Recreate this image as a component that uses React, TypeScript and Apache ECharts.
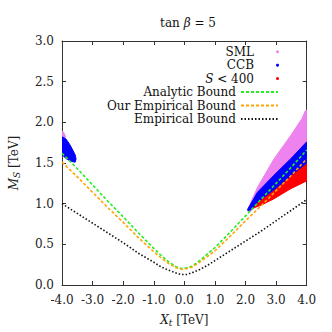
import React, { useEffect, useRef } from "react";
import * as echarts from "echarts";

// ---- data ----
const analyticX = [-4, -3.5, -3, -2.5, -2, -1.5, -1, -0.75, -0.5, -0.25, -0.05, 0.25, 0.5, 0.75, 1, 1.5, 2, 2.5, 3, 3.5, 4];
const analyticY = [1.62, 1.43, 1.23, 1.03, 0.84, 0.64, 0.45, 0.36, 0.28, 0.22, 0.2, 0.23, 0.3, 0.38, 0.46, 0.65, 0.85, 1.05, 1.25, 1.45, 1.66];

const ourEmpX = [-4, -3.5, -3, -2.5, -2, -1.5, -1, -0.75, -0.5, -0.25, -0.05, 0.25, 0.5, 0.75, 1, 1.5, 2, 2.5, 3, 3.5, 4];
const ourEmpY = [1.51, 1.33, 1.14, 0.95, 0.77, 0.58, 0.41, 0.33, 0.26, 0.21, 0.19, 0.22, 0.28, 0.35, 0.42, 0.6, 0.79, 0.97, 1.16, 1.35, 1.55];

const empX = [-4, -3.5, -3, -2.5, -2, -1.5, -1, -0.75, -0.5, -0.25, -0.1, 0.1, 0.25, 0.5, 0.75, 1, 1.5, 2, 2.5, 3, 3.5, 4];
const empY = [1.0, 0.88, 0.76, 0.64, 0.52, 0.39, 0.28, 0.22, 0.18, 0.145, 0.128, 0.13, 0.15, 0.19, 0.24, 0.3, 0.42, 0.54, 0.66, 0.79, 0.92, 1.05];

// scatter regions (outline of the point clouds)
const smlRight: [number, number][] = [
  [2.07, 0.93], [2.39, 1.2], [2.93, 1.55], [3.5, 1.85], [3.85, 2.05], [3.95, 2.14], [4.0, 2.15], [4.0, 1.7], [2.5, 1.05], [2.15, 0.9],
];
const smlLeft: [number, number][] = [
  [-4.0, 1.89], [-3.95, 1.88], [-3.88, 1.82], [-4.0, 1.8],
];
const ccbRight: [number, number][] = [
  [2.07, 0.93], [2.39, 1.14], [2.93, 1.35], [3.5, 1.56], [4.0, 1.76], [4.0, 1.5], [3.5, 1.35], [2.93, 1.17], [2.39, 1.02], [2.2, 0.93], [2.08, 0.91],
];
const ccbLeft: [number, number][] = [
  [-4.0, 1.82], [-3.88, 1.8], [-3.75, 1.73], [-3.65, 1.66], [-3.57, 1.6], [-3.54, 1.55], [-3.57, 1.51], [-3.7, 1.52], [-3.85, 1.55], [-4.0, 1.6],
];
const s400Right: [number, number][] = [
  [2.22, 0.94], [2.39, 1.03], [2.93, 1.19], [3.5, 1.37], [4.0, 1.57], [4.0, 1.28], [3.46, 1.18], [2.93, 1.06], [2.5, 0.98],
];

const xTicks = [-4, -3, -2, -1, 0, 1, 2, 3, 4];
const yTicks = [0, 0.5, 1, 1.5, 2, 2.5, 3];

const pointLegendNames = ["SML", "CCB", "S < 400"];
const lineLegendNames = ["Analytic Bound", "Our Empirical Bound", "Empirical Bound"];

const FONT = "DejaVu Serif";
const FS = 12;

function polySeries(name: string, polys: [number, number][][], color: string, z: number) {
  return {
    name,
    type: "custom",
    coordinateSystem: "cartesian2d",
    clip: true,
    z,
    itemStyle: { color },
    data: [[0, 0]],
    renderItem: (_params: any, api: any) => ({
      type: "group",
      children: polys.map((poly) => ({
        type: "polygon",
        shape: { points: poly.map((p) => api.coord(p)) },
        style: { fill: color, stroke: color, lineWidth: 1 },
      })),
    }),
  };
}

function lineSeries(name: string, xs: number[], ys: number[], color: string, dash: number[], width: number) {
  return {
    name,
    type: "line",
    smooth: false,
    symbol: "none",
    z: 5,
    data: xs.map((x, i) => [x, ys[i]]),
    lineStyle: { color, width, type: dash },
    itemStyle: { color },
  };
}

export default function App() {
  const ref = useRef<HTMLDivElement>(null);
  useEffect(() => {
    if (!ref.current) return;
    const chart = echarts.init(ref.current, undefined, { renderer: "svg" });
    const axisLine = { show: true, onZero: false, lineStyle: { color: "#333", width: 1 } };
    const axisTick = { show: true, inside: true, length: 4, lineStyle: { color: "#333" } };
    const axisCommon = { min: -4, max: 4, interval: 1, axisLine, axisTick, splitLine: { show: false } };
    const yCommon = { min: 0, max: 3, interval: 0.5, axisLine, axisTick, splitLine: { show: false } };
    const legendText = {
      fontFamily: FONT,
      fontSize: FS,
      color: "#111",
      lineHeight: 12,
      rich: { i: { fontFamily: FONT, fontStyle: "italic", fontSize: FS, lineHeight: 12 } },
    };
    const rowCenter0 = 51.7;
    const rowStep = 13.45;
    const legends: any[] = [];
    pointLegendNames.forEach((name, i) => {
      legends.push({
        orient: "vertical",
        align: "right",
        right: 53,
        top: rowCenter0 + i * rowStep - 6,
        itemWidth: 37,
        itemHeight: 3,
        padding: 0,
        textStyle: legendText,
        formatter: (n: string) => (n === "S < 400" ? "{i|S} < 400" : n),
        data: [{ name, icon: "circle" }],
      });
    });
    lineLegendNames.forEach((name, i) => {
      legends.push({
        orient: "vertical",
        align: "right",
        right: 53,
        top: rowCenter0 + (i + 3) * rowStep - 6,
        itemWidth: 37,
        itemHeight: 12,
        padding: 0,
        itemStyle: { opacity: 0 },
        textStyle: legendText,
        data: [name],
      });
    });
    const nameRich = {
      i: { fontFamily: FONT, fontSize: FS, fontStyle: "italic", color: "#222" },
      s: { fontFamily: FONT, fontSize: 9, fontStyle: "italic", color: "#222", verticalAlign: "bottom", padding: [5, 0, 0, 0] },
      n: { fontFamily: FONT, fontSize: FS, color: "#222" },
    };
    chart.setOption({
      animation: false,
      backgroundColor: "#fff",
      title: {
        text: "{n|tan }{i|β}{n| = 5}",
        left: 183,
        top: 12,
        textAlign: "center",
        textStyle: {
          fontWeight: "normal",
          rich: {
            n: { fontFamily: FONT, fontSize: FS, fontWeight: "normal", color: "#111" },
            i: { fontFamily: FONT, fontSize: FS, fontStyle: "italic", fontWeight: "normal", color: "#111" },
          },
        },
      },
      grid: { left: 59.3, right: 25.3, top: 41, bottom: 45 },
      legend: legends,
      xAxis: [
        {
          ...axisCommon,
          type: "value",
          position: "bottom",
          axisLabel: {
            show: true,
            fontFamily: FONT,
            fontSize: FS,
            color: "#222",
            margin: 9,
            formatter: (v: number) => (xTicks.includes(v) ? v.toFixed(1) : ""),
          },
          name: "{i|X}{s|t}{n| [TeV]}",
          nameLocation: "middle",
          nameGap: 28,
          nameTextStyle: { fontFamily: FONT, fontSize: FS, color: "#222", rich: nameRich },
        },
        { ...axisCommon, type: "value", position: "top", axisLabel: { show: false } },
      ],
      yAxis: [
        {
          ...yCommon,
          type: "value",
          position: "left",
          axisLabel: {
            show: true,
            fontFamily: FONT,
            fontSize: FS,
            color: "#222",
            margin: 8,
            formatter: (v: number) => (yTicks.includes(v) ? v.toFixed(1) : ""),
          },
          name: "{i|M}{s|S}{n| [TeV]}",
          nameLocation: "middle",
          nameRotate: 90,
          nameGap: 41,
          nameTextStyle: { fontFamily: FONT, fontSize: FS, color: "#222", rich: nameRich },
        },
        { ...yCommon, type: "value", position: "right", axisLabel: { show: false } },
      ],
      series: [
        polySeries("SML", [smlRight, smlLeft], "#ee82ee", 1),
        polySeries("S < 400", [s400Right], "#ff0000", 2),
        polySeries("CCB", [ccbRight, ccbLeft], "#0000ff", 3),
        lineSeries("Analytic Bound", analyticX, analyticY, "#22ee22", [3, 2], 1.6),
        lineSeries("Our Empirical Bound", ourEmpX, ourEmpY, "#ffa500", [3, 2], 1.6),
        lineSeries("Empirical Bound", empX, empY, "#111111", [1.5, 2], 1.6),
      ],
    });
    return () => chart.dispose();
  }, []);
  return <div ref={ref} style={{ width: 332, height: 332, position: "absolute", left: 0, top: 0 }} />;
}
